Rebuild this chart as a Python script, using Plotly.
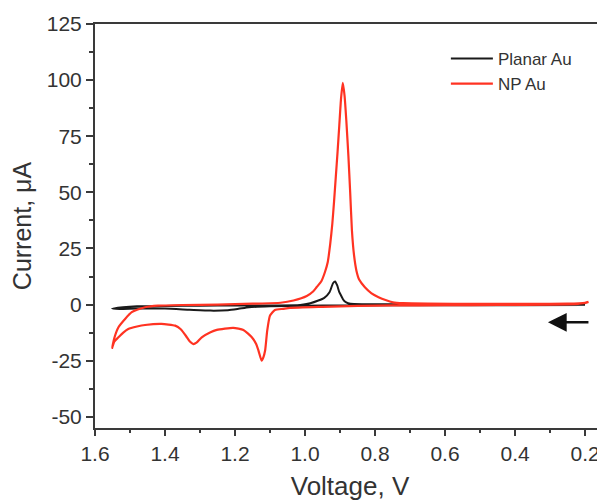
import plotly.graph_objects as go

# ---- data ----
np_voltage = [0.190, 0.200, 0.250, 0.350, 0.500, 0.650, 0.720, 0.749, 0.770, 0.790, 0.810, 0.829,
              0.845, 0.853, 0.860, 0.866, 0.871, 0.876, 0.882, 0.887, 0.892, 0.897, 0.902, 0.907,
              0.912, 0.917, 0.922, 0.928, 0.935, 0.943, 0.953, 0.967, 0.977, 0.995, 1.033, 1.070,
              1.150, 1.250, 1.350, 1.420, 1.457, 1.478, 1.495, 1.514, 1.533, 1.545, 1.551,
              1.545, 1.533, 1.520, 1.505, 1.480, 1.457, 1.410, 1.371, 1.355, 1.340, 1.329, 1.319,
              1.310, 1.295, 1.270, 1.252, 1.205, 1.176, 1.152, 1.140, 1.133, 1.124, 1.119, 1.114,
              1.108, 1.100, 1.086, 1.062, 1.043, 0.950, 0.850, 0.750, 0.600, 0.450, 0.300, 0.220,
              0.195]
np_current = [1.2, 0.8, 0.4, 0.3, 0.3, 0.4, 0.6, 1.0, 2.0, 3.3, 5.0, 7.7,
              11.0, 15.0, 22.0, 33.0, 50.0, 66.0, 82.0, 93.0, 98.8, 92.0, 80.0, 68.0,
              57.0, 46.0, 36.0, 27.0, 19.0, 14.5, 10.5, 7.7, 5.8, 3.8, 1.8, 0.8,
              0.4, 0.0, -0.2, -0.5, -1.2, -2.2, -3.4, -6.4, -10.1, -15.0, -19.3,
              -16.5, -14.6, -12.6, -10.9, -9.8, -9.1, -8.6, -9.4, -11.0, -14.0, -16.5, -17.6,
              -17.0, -14.6, -12.3, -11.3, -10.4, -11.3, -14.6, -17.5, -20.5, -25.0, -23.5, -20.5,
              -11.6, -4.9, -2.4, -1.9, -1.5, -1.0, -0.6, -0.4, -0.3, -0.2, 0.0, 0.3,
              0.8]

planar_voltage = [0.200, 0.500, 0.770, 0.860, 0.877, 0.887, 0.892, 0.897, 0.902, 0.908, 0.914,
                  0.920, 0.930, 0.945, 0.962, 0.985, 1.014, 1.100, 1.200, 1.300, 1.400, 1.480,
                  1.520, 1.551,
                  1.530, 1.480, 1.400, 1.330, 1.270, 1.220, 1.190, 1.160, 1.100, 1.000, 0.900,
                  0.600, 0.400, 0.200]
planar_current = [0.2, 0.1, 0.1, 0.2, 0.6, 1.5, 2.5, 4.0, 5.5, 8.5, 10.3,
                  9.5, 5.5, 3.0, 1.8, 0.6, -0.2, -0.4, -0.4, -0.5, -0.6, -0.8,
                  -1.2, -1.8,
                  -2.0, -1.8, -1.8, -2.3, -2.7, -2.5, -1.9, -1.2, -0.8, -0.5, -0.4,
                  -0.3, -0.3, -0.2]

series_names = ["Planar Au", "NP Au"]
series_colors = ["#1a1a1a", "#ff3322"]

x_ticks = [1.6, 1.4, 1.2, 1.0, 0.8, 0.6, 0.4, 0.2]
y_ticks = [-50, -25, 0, 25, 50, 75, 100, 125]

# scan direction arrow (data coordinates)
arrow_tip = (0.306, -7.9)
arrow_tail = (0.186, -7.9)

FONT = "Liberation Sans, Arial, sans-serif"
TXT = "#333333"
AX = "#3a3a3a"

fig = go.Figure()
fig.add_trace(go.Scatter(x=planar_voltage, y=planar_current, mode="lines",
                         name=series_names[0],
                         line=dict(color=series_colors[0], width=2, shape="spline", smoothing=0.5)))
fig.add_trace(go.Scatter(x=np_voltage, y=np_current, mode="lines",
                         name=series_names[1],
                         line=dict(color=series_colors[1], width=2.2, shape="spline", smoothing=0.5)))

fig.add_annotation(x=arrow_tip[0], y=arrow_tip[1], ax=arrow_tail[0], ay=arrow_tail[1],
                   xref="x", yref="y", axref="x", ayref="y", text="",
                   showarrow=True, arrowhead=2, arrowsize=1.5, arrowwidth=2.5,
                   arrowcolor="#111111")

fig.update_layout(
    width=597, height=493,
    margin=dict(l=87, r=0, t=16, b=73, autoexpand=False),
    paper_bgcolor="white", plot_bgcolor="white",
    font=dict(family=FONT, color=TXT, size=21),
    showlegend=True,
    legend=dict(x=0.688, y=0.958, xanchor="left", yanchor="top",
                bgcolor="rgba(0,0,0,0)", font=dict(size=17, color=TXT),
                itemwidth=42, tracegroupgap=0),
    xaxis=dict(range=[1.6, 0.143], tickmode="array", tickvals=x_ticks,
               ticktext=[f"{v:.1f}" for v in x_ticks], automargin=False,
               showline=True, linecolor=AX, linewidth=2, mirror=True,
               ticks="outside", ticklen=6, tickwidth=2, tickcolor=AX,
               minor=dict(dtick=0.1, tick0=0.1, ticks="outside", ticklen=3, tickwidth=2, tickcolor=AX),
               showgrid=False, zeroline=False,
               tickfont=dict(size=21, color=TXT),
               title=dict(text="Voltage, V", font=dict(size=26, color=TXT), standoff=14)),
    yaxis=dict(range=[-55, 125], tickmode="array", tickvals=y_ticks,
               ticktext=[str(v) for v in y_ticks], automargin=False,
               showline=True, linecolor=AX, linewidth=2, mirror=True,
               ticks="outside", ticklen=7, tickwidth=2, tickcolor=AX,
               minor=dict(dtick=12.5, tick0=0, ticks="outside", ticklen=4, tickwidth=2, tickcolor=AX),
               showgrid=False, zeroline=False,
               tickfont=dict(size=21, color=TXT),
               title=dict(text="Current, μA", font=dict(size=25, color=TXT), standoff=10)),
)

fig.write_html("out.html")
